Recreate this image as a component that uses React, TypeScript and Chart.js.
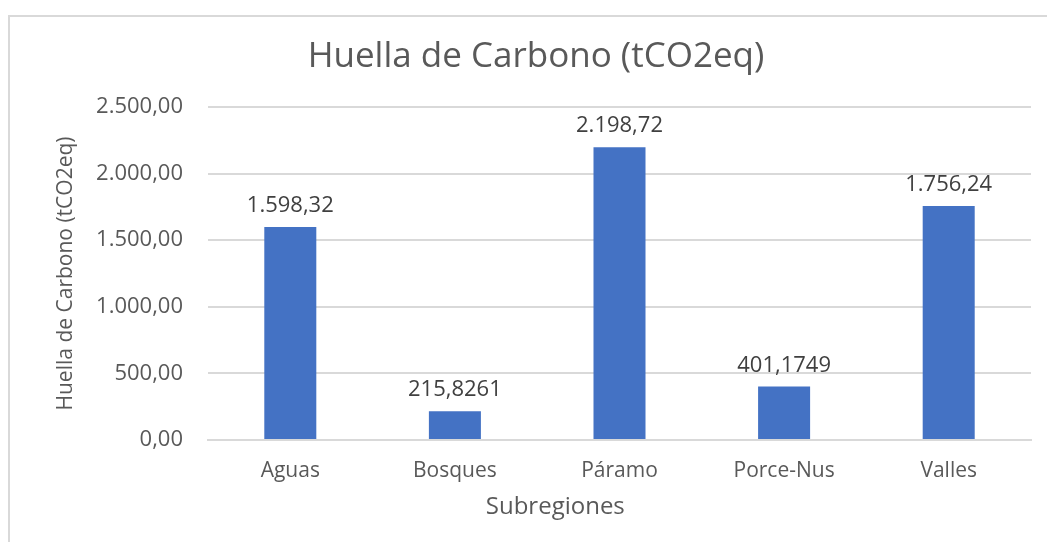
import React, { useEffect, useRef } from "react";
import { Chart, registerables } from "chart.js";

Chart.register(...registerables);

const categories = ["Aguas", "Bosques", "Páramo", "Porce-Nus", "Valles"];
const values = [1598.32, 215.8261, 2198.72, 401.1749, 1756.24];
const valueLabels = ["1.598,32", "215,8261", "2.198,72", "401,1749", "1.756,24"];
const yTicks = ["0,00", "500,00", "1.000,00", "1.500,00", "2.000,00", "2.500,00"];
const xAxisTitle = "Subregiones";

const FONT = "'Open Sans', 'Segoe UI', sans-serif";
const TEXT = "#595959";
const GRID = "#d9d9d9";
const BAR = "#4472C4";

const frame = {
  id: "frame",
  beforeDraw(chart: any) {
    const ctx = chart.ctx;
    ctx.save();
    ctx.fillStyle = "#ffffff";
    ctx.fillRect(0, 0, chart.width, chart.height);
    ctx.strokeStyle = GRID;
    ctx.lineWidth = 2;
    ctx.beginPath();
    ctx.moveTo(9, chart.height);
    ctx.lineTo(9, 16);
    ctx.lineTo(chart.width, 16);
    ctx.stroke();
    ctx.restore();
  },
};

const valueLabelPlugin = {
  id: "valueLabels",
  afterDatasetsDraw(chart: any) {
    const ctx = chart.ctx;
    const meta = chart.getDatasetMeta(0);
    ctx.save();
    ctx.font = `22px ${FONT}`;
    ctx.fillStyle = "#404040";
    ctx.textAlign = "center";
    ctx.textBaseline = "alphabetic";
    meta.data.forEach((bar: any, i: number) => {
      ctx.fillText(valueLabels[i], bar.x, bar.y - 15);
    });
    // x-axis title, offset to the left as in the original
    const area = chart.chartArea;
    ctx.font = `24px ${FONT}`;
    ctx.fillStyle = TEXT;
    ctx.textBaseline = "middle";
    ctx.fillText(xAxisTitle, area.left + (area.right - area.left) * 0.422, area.bottom + 67);
    ctx.restore();
  },
};

export default function App() {
  const ref = useRef<HTMLCanvasElement | null>(null);
  useEffect(() => {
    if (!ref.current) return;
    const chart = new Chart(ref.current, {
      type: "bar",
      data: {
        labels: categories,
        datasets: [
          {
            data: values,
            backgroundColor: BAR,
            borderWidth: 0,
            categoryPercentage: 1,
            barPercentage: 0.316,
          },
        ],
      },
      options: {
        animation: false,
        responsive: false,
        maintainAspectRatio: false,
        layout: { padding: { left: 41, right: 16, top: 0, bottom: 0 } },
        plugins: {
          legend: { display: false },
          tooltip: { enabled: false },
          title: {
            display: true,
            text: "Huella de Carbono (tCO2eq)",
            color: TEXT,
            font: { family: FONT, size: 35, weight: "normal", lineHeight: 1.2 },
            padding: { top: 36, bottom: 29 },
          },
        },
        scales: {
          x: {
            grid: { display: false, drawTicks: false },
            border: { display: true, color: GRID, width: 2 },
            ticks: {
              color: TEXT,
              font: { family: FONT, size: 21 },
              padding: 18,
            },
            title: { display: false },
            afterFit(scale: any) {
              scale.height = 102;
            },
          },
          y: {
            min: 0,
            max: 2500,
            grid: { color: GRID, lineWidth: 2, drawTicks: false },
            border: { display: false },
            ticks: {
              stepSize: 500,
              color: TEXT,
              font: { family: FONT, size: 22 },
              padding: 25,
              callback: (_v: any, i: number) => yTicks[i],
            },
            title: {
              display: true,
              text: "Huella de Carbono (tCO2eq)",
              color: TEXT,
              font: { family: FONT, size: 21, lineHeight: 1.2 },
              padding: { top: 12, bottom: 0 },
            },
            afterFit(scale: any) {
              scale.width = 167;
            },
          },
        },
      },
      plugins: [frame, valueLabelPlugin],
    });
    return () => chart.destroy();
  }, []);
  return (
    <div style={{ position: "fixed", left: 0, top: 0, width: 1047, height: 542 }}>
      <canvas ref={ref} width={1047} height={542} style={{ display: "block" }} />
    </div>
  );
}
